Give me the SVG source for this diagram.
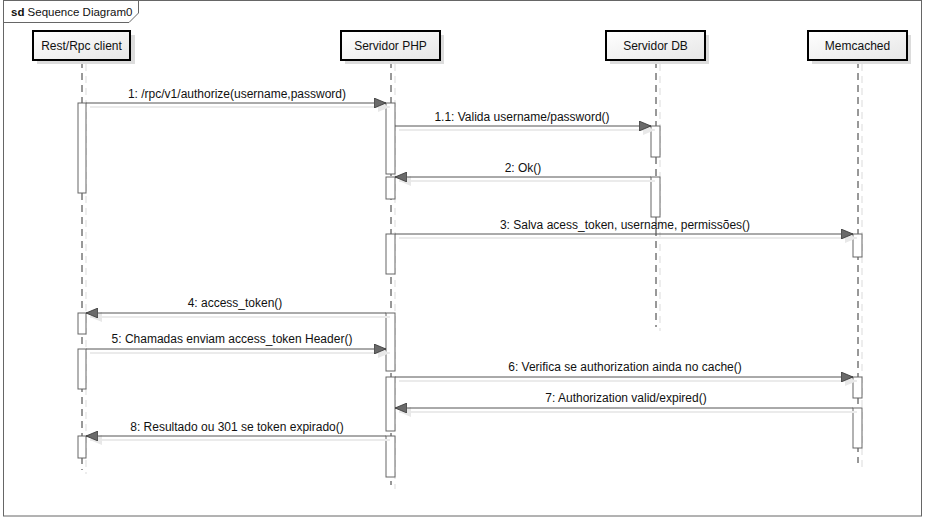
<svg xmlns="http://www.w3.org/2000/svg" width="926" height="519" viewBox="0 0 926 519">
<defs>
<linearGradient id="hg" x1="0" y1="0" x2="1" y2="1">
<stop offset="0" stop-color="#ffffff"/>
<stop offset="1" stop-color="#e6e6e6"/>
</linearGradient>
<marker id="ah" viewBox="0 0 12 10" refX="12" refY="5" markerWidth="12" markerHeight="10" markerUnits="userSpaceOnUse" orient="auto">
<path d="M0,0 L12,5 L0,10 Z" fill="#6a6a6a" stroke="#333" stroke-width="0.8"/>
</marker>
<marker id="ahs" viewBox="0 0 12 10" refX="12" refY="5" markerWidth="12" markerHeight="10" markerUnits="userSpaceOnUse" orient="auto">
<path d="M0,0 L12,5 L0,10 Z" fill="#e8e8e8"/>
</marker>
</defs>
<style>
.frame{fill:none;stroke:#666;stroke-width:1}
.hbox{fill:url(#hg);stroke:#000;stroke-width:2}
.hsh{fill:#dcdcdc}
.ht{font-family:"Liberation Sans",Arial,sans-serif;font-size:12px;fill:#111;text-anchor:middle}
.life{stroke:#333;stroke-width:1;stroke-dasharray:7,5;fill:none}
.lifes{stroke:#e8e8e8;stroke-width:1.5;stroke-dasharray:7,5;fill:none}
.act{fill:#fff;stroke:#666;stroke-width:1}
.msg{stroke:#555;stroke-width:1;fill:none;marker-end:url(#ah)}
.msgs{stroke:#ebebeb;stroke-width:2;fill:none;marker-end:url(#ahs)}
.lbl{font-family:"Liberation Sans",Arial,sans-serif;font-size:12px;fill:#111;text-anchor:middle}
.ft{font-family:"Liberation Sans",Arial,sans-serif;font-size:11.5px;fill:#111}
</style>
<rect width="926" height="519" fill="#fff"/>
<g id="frame">
<rect class="frame" x="3.5" y="0.5" width="918" height="515.5"/>
<path class="frame" d="M3.5,22.5 H129 L138.5,13 V0.5"/>
<text class="ft" x="11" y="16"><tspan font-weight="bold">sd</tspan> Sequence Diagram0</text>
</g>
<g id="lifelines">
<line class="lifes" x1="86" y1="64" x2="86" y2="474"/>
<line class="life" x1="82" y1="61" x2="82" y2="470"/>
<line class="lifes" x1="395" y1="64" x2="395" y2="489"/>
<line class="life" x1="391" y1="61" x2="391" y2="485"/>
<line class="lifes" x1="660" y1="64" x2="660" y2="331"/>
<line class="life" x1="656" y1="61" x2="656" y2="327"/>
<line class="lifes" x1="862" y1="64" x2="862" y2="467"/>
<line class="life" x1="858" y1="61" x2="858" y2="463"/>
</g>
<g id="client">
<rect class="hsh" x="37" y="35" width="98" height="29"/>
<rect class="hbox" x="33" y="31" width="97" height="29"/>
<text class="ht" x="81.5" y="50">Rest/Rpc client</text>
</g>
<g id="php">
<rect class="hsh" x="345" y="35" width="99" height="29"/>
<rect class="hbox" x="341" y="31" width="99" height="29"/>
<text class="ht" x="390.5" y="50">Servidor PHP</text>
</g>
<g id="db">
<rect class="hsh" x="610" y="35" width="99" height="29"/>
<rect class="hbox" x="606" y="31" width="99" height="29"/>
<text class="ht" x="655.5" y="50">Servidor DB</text>
</g>
<g id="memcached">
<rect class="hsh" x="812" y="35" width="99" height="29"/>
<rect class="hbox" x="808" y="31" width="99" height="29"/>
<text class="ht" x="857.5" y="50">Memcached</text>
</g>
<g id="activations">
<rect class="act" x="78" y="103" width="8" height="90"/>
<rect class="act" x="78" y="313" width="8" height="21"/>
<rect class="act" x="78" y="349" width="8" height="40"/>
<rect class="act" x="78" y="436" width="8" height="22"/>
<rect class="act" x="386" y="103" width="9" height="71"/>
<rect class="act" x="386" y="177" width="9" height="22"/>
<rect class="act" x="386" y="234" width="9" height="40"/>
<rect class="act" x="386" y="313" width="9" height="58"/>
<rect class="act" x="386" y="377" width="9" height="54"/>
<rect class="act" x="386" y="436" width="9" height="41"/>
<rect class="act" x="651" y="126" width="9" height="31"/>
<rect class="act" x="651" y="177" width="9" height="40"/>
<rect class="act" x="853" y="234" width="9" height="23"/>
<rect class="act" x="853" y="377" width="9" height="21"/>
<rect class="act" x="853" y="408" width="9" height="40"/>
</g>
<g id="connectors">
<line class="msgs" x1="90" y1="107" x2="390" y2="107"/>
<line class="msg" x1="86" y1="103" x2="386" y2="103"/>
<text class="lbl" x="237" y="98">1: /rpc/v1/authorize(username,password)</text>
<line class="msgs" x1="399" y1="130" x2="655" y2="130"/>
<line class="msg" x1="395" y1="126" x2="651" y2="126"/>
<text class="lbl" x="522" y="121">1.1: Valida username/password()</text>
<line class="msgs" x1="655" y1="181" x2="399" y2="181"/>
<line class="msg" x1="651" y1="177" x2="395" y2="177"/>
<text class="lbl" x="523" y="172">2: Ok()</text>
<line class="msgs" x1="399" y1="238" x2="857" y2="238"/>
<line class="msg" x1="395" y1="234" x2="853" y2="234"/>
<text class="lbl" x="625" y="229">3: Salva acess_token, username, permissões()</text>
<line class="msgs" x1="390" y1="317" x2="90" y2="317"/>
<line class="msg" x1="386" y1="313" x2="86" y2="313"/>
<text class="lbl" x="235" y="307">4: access_token()</text>
<line class="msgs" x1="90" y1="353" x2="390" y2="353"/>
<line class="msg" x1="86" y1="349" x2="386" y2="349"/>
<text class="lbl" x="232" y="343">5: Chamadas enviam access_token Header()</text>
<line class="msgs" x1="399" y1="381" x2="857" y2="381"/>
<line class="msg" x1="395" y1="377" x2="853" y2="377"/>
<text class="lbl" x="625" y="371">6: Verifica se authorization ainda no cache()</text>
<line class="msgs" x1="857" y1="412" x2="399" y2="412"/>
<line class="msg" x1="853" y1="408" x2="395" y2="408"/>
<text class="lbl" x="626" y="402">7: Authorization valid/expired()</text>
<line class="msgs" x1="390" y1="440" x2="90" y2="440"/>
<line class="msg" x1="386" y1="436" x2="86" y2="436"/>
<text class="lbl" x="237" y="431">8: Resultado ou 301 se token expirado()</text>
</g>
</svg>
